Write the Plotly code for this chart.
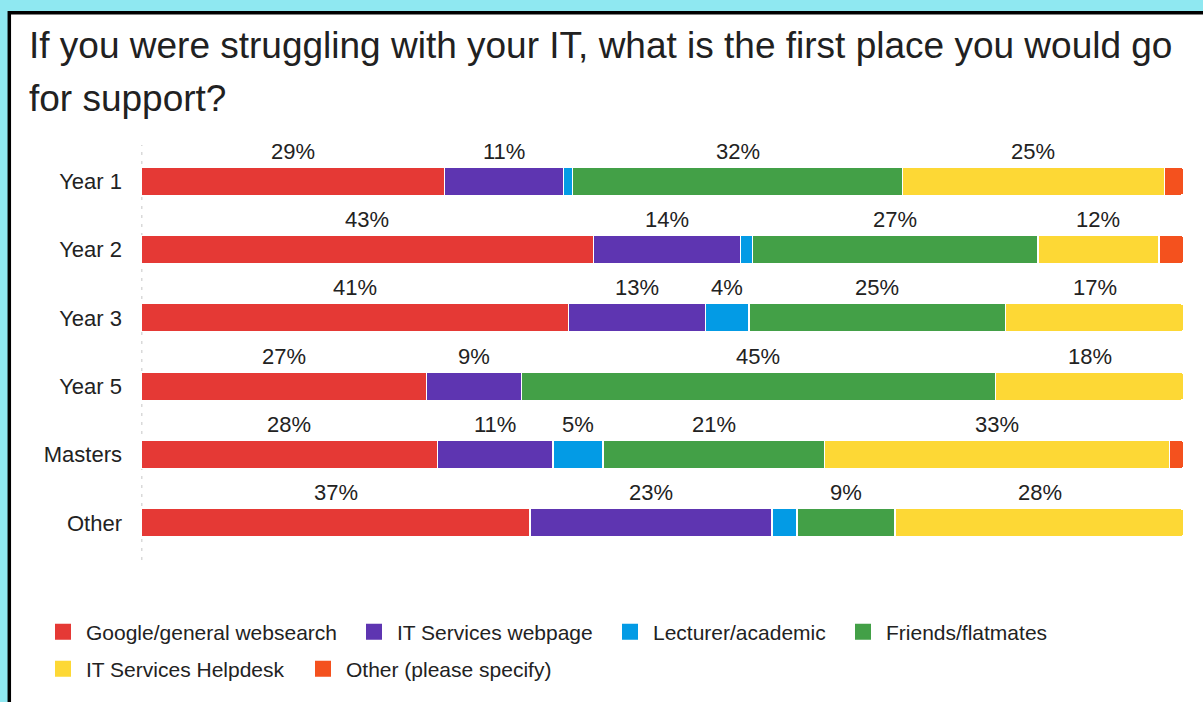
import plotly.graph_objects as go

# ---- data -------------------------------------------------------------
categories = ["Year 1", "Year 2", "Year 3", "Year 5", "Masters", "Other"]

series_names = [
    "Google/general websearch",
    "IT Services webpage",
    "Lecturer/academic",
    "Friends/flatmates",
    "IT Services Helpdesk",
    "Other (please specify)",
]

# share of respondents (%) per group, one list per answer
google_search = [29.1, 43.4, 41.0, 27.4, 28.4, 37.3]
it_webpage = [11.4, 14.1, 13.1, 9.1, 11.1, 23.2]
lecturer = [0.9, 1.1, 4.2, 0.0, 4.8, 2.4]
friends = [31.6, 27.4, 24.6, 45.4, 21.2, 9.4]
it_helpdesk = [25.1, 11.6, 17.1, 18.1, 33.1, 27.7]
other_specify = [1.9, 2.4, 0.0, 0.0, 1.4, 0.0]

series_values = [google_search, it_webpage, lecturer, friends, it_helpdesk, other_specify]

title_lines = [
    "If you were struggling with your IT, what is the first place you would go",
    "for support?",
]

# ---- styling ----------------------------------------------------------
colors = ["#E53935", "#5E35B1", "#039BE5", "#43A047", "#FDD835", "#F4511E"]
FONT = "Liberation Sans, Arial, Helvetica, sans-serif"
TEXT = "#222222"
LABEL_MIN = 3.0  # segments narrower than this get no value label

W, H = 1203, 702
L, R, T, B = 141, 19, 147, 145
PW, PH = W - L - R, H - T - B


def px_x(px):
    return (px - L) / PW


def px_y(py):
    return (H - B - py) / PH


fig = go.Figure()

# stacked horizontal bars
for k, (name, vals, col) in enumerate(zip(series_names, series_values, colors)):
    marker = dict(color=col, line=dict(color="white", width=1.2))
    if k == len(series_names) - 1:
        marker["cornerradius"] = 4
    fig.add_trace(go.Bar(
        y=categories, x=vals, orientation="h", name=name,
        marker=marker, showlegend=False,
        hovertemplate="%{y}: %{x:.0f}%<extra>" + name + "</extra>",
    ))

# value labels above each segment
starts = [0.0] * len(categories)
for vals in series_values:
    for i, v in enumerate(vals):
        if v >= LABEL_MIN:
            fig.add_annotation(
                x=starts[i] + v / 2, y=categories[i], xref="x", yref="y",
                text=f"{round(v)}%", showarrow=False, yshift=30,
                font=dict(family=FONT, size=22, color=TEXT),
            )
        starts[i] += v

# legend: one single-entry legend per answer, laid out in two rows
ITEM_W = 36
legend_slots = [(55, 632), (366, 632), (622, 632), (855, 632), (55, 669), (315, 669)]
layout_legends = {}
for k, (name, col, (sq_left, cy)) in enumerate(zip(series_names, colors, legend_slots)):
    key = "legend" if k == 0 else f"legend{k + 1}"
    fig.add_trace(go.Scatter(
        x=[None], y=[None], mode="markers", name=name, legend=key,
        marker=dict(symbol="square", size=16, color=col),
        showlegend=True, hoverinfo="skip",
    ))
    layout_legends[key] = dict(
        x=px_x(sq_left - (ITEM_W // 2 + 5 - 8)), y=px_y(cy),
        xanchor="left", yanchor="middle", itemwidth=ITEM_W,
        orientation="h", bgcolor="rgba(0,0,0,0)", borderwidth=0,
        font=dict(family=FONT, size=21, color=TEXT),
    )

# two-line heading
for line, cy in zip(title_lines, [45, 99]):
    fig.add_annotation(
        x=px_x(27), y=px_y(cy), xref="paper", yref="paper",
        xanchor="left", yanchor="middle", showarrow=False, text=line,
        font=dict(family=FONT, size=37, color="#212121"),
    )

fig.update_layout(
    width=W, height=H,
    margin=dict(l=L, r=R, t=T, b=B, autoexpand=False),
    paper_bgcolor="#8FE8F1",
    plot_bgcolor="rgba(0,0,0,0)",
    barmode="stack",
    bargap=0.59,
    font=dict(family=FONT, color=TEXT),
    shapes=[
        # white card with a black frame
        dict(type="rect", xref="paper", yref="paper",
             x0=px_x(9.3), x1=px_x(1215), y0=px_y(715), y1=px_y(12.8),
             line=dict(color="black", width=3.5), fillcolor="white", layer="below"),
        # dotted baseline at 0 %
        dict(type="line", xref="x", yref="paper", x0=0, x1=0,
             y0=px_y(560), y1=px_y(145),
             line=dict(color="#d9d9d9", width=3, dash="3px,6px"), layer="below"),
    ],
    **layout_legends,
)

fig.update_xaxes(range=[0, 100], type="linear", visible=False, fixedrange=True)
fig.update_yaxes(
    type="category", categoryorder="array", categoryarray=categories,
    range=[len(categories) - 0.5, -0.5], autorange=False,
    showgrid=False, zeroline=False, showline=False,
    ticks="", ticklabelstandoff=18,
    tickfont=dict(family=FONT, size=22, color=TEXT), fixedrange=True,
)

fig.write_html("out.html")
